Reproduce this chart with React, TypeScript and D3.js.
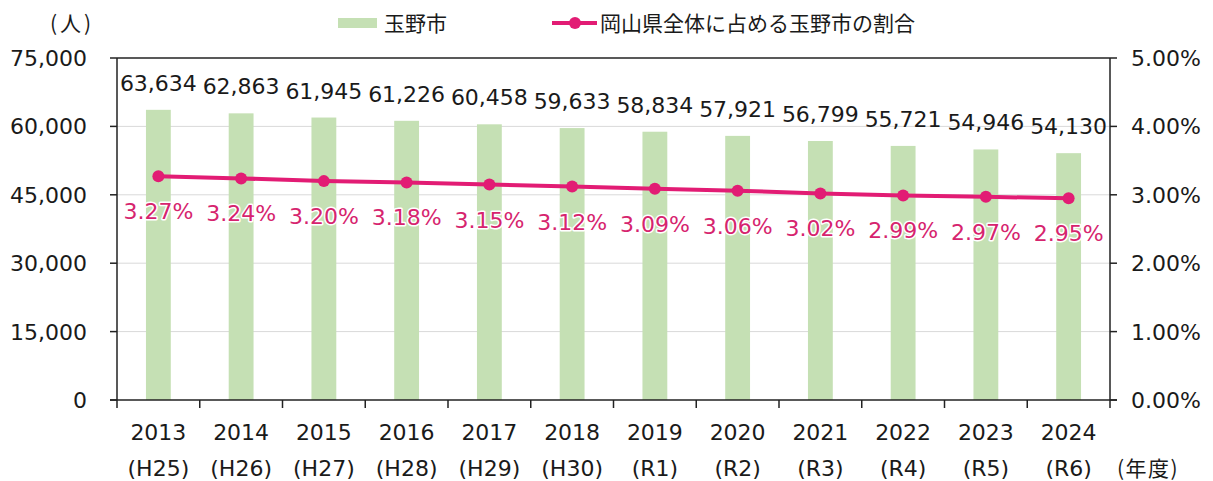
import React from "react";
import * as d3 from "d3";

const years = ["2013", "2014", "2015", "2016", "2017", "2018", "2019", "2020", "2021", "2022", "2023", "2024"];
const eras = ["(H25)", "(H26)", "(H27)", "(H28)", "(H29)", "(H30)", "(R1)", "(R2)", "(R3)", "(R4)", "(R5)", "(R6)"];
const population = [63634, 62863, 61945, 61226, 60458, 59633, 58834, 57921, 56799, 55721, 54946, 54130];
const ratio = [3.27, 3.24, 3.2, 3.18, 3.15, 3.12, 3.09, 3.06, 3.02, 2.99, 2.97, 2.95];
const leftTicks = [0, 15000, 30000, 45000, 60000, 75000];
const rightTicks = [0, 1, 2, 3, 4, 5];
const barName = "玉野市";
const lineName = "岡山県全体に占める玉野市の割合";
const leftUnit = "(人)";
const xUnit = "(年度)";

const W = 1213;
const H = 481;
const L = 117;
const R = 1110;
const T = 58;
const B = 400;
const FONT = "'DejaVu Sans', 'Noto Sans CJK JP', sans-serif";
const JFONT = "'Noto Sans CJK JP', 'DejaVu Sans', sans-serif";
const BAR = "#c5e0b4";
const PINK = "#e21c74";
const PINK_TXT = "#d6246e";
const FS = 22;

export default function App() {
  const x = d3.scaleBand<string>().domain(years).range([L, R]).padding(0);
  const yL = d3.scaleLinear().domain([0, 75000]).range([B, T]);
  const yR = d3.scaleLinear().domain([0, 5]).range([B, T]);
  const bw = x.bandwidth() * 0.3;
  const cx = (i: number) => (x(years[i]) as number) + x.bandwidth() / 2;
  const fmt = d3.format(",");
  const line = d3
    .line<number>()
    .x((_, i) => cx(i))
    .y((d) => yR(d));
  const boundaries = d3.range(years.length + 1).map((i) => L + i * x.bandwidth());

  return (
    <svg width={W} height={H} style={{ position: "absolute", left: 0, top: 0, background: "#fff" }}>
      {leftTicks.slice(1, -1).map((t) => (
        <line key={"g" + t} x1={L} x2={R} y1={yL(t)} y2={yL(t)} stroke="#d9d9d9" strokeWidth={1} />
      ))}
      {population.map((v, i) => (
        <rect key={"b" + i} x={cx(i) - bw / 2} y={yL(v)} width={bw} height={B - yL(v)} fill={BAR} />
      ))}
      {population.map((v, i) => (
        <text key={"bl" + i} x={cx(i)} y={yL(v) - 19} textAnchor="middle" fontFamily={FONT} fontSize={FS} fill="#1a1a1a">
          {fmt(v)}
        </text>
      ))}
      <line x1={L} x2={R} y1={T} y2={T} stroke="#222" strokeWidth={1.5} />
      <line x1={L - 7} x2={R + 7} y1={B} y2={B} stroke="#222" strokeWidth={1.5} />
      <line x1={L} x2={L} y1={T} y2={B} stroke="#222" strokeWidth={1.5} />
      <line x1={R} x2={R} y1={T} y2={B} stroke="#222" strokeWidth={1.5} />
      {leftTicks.map((t) => (
        <g key={"lt" + t}>
          <line x1={L - 7} x2={L} y1={yL(t)} y2={yL(t)} stroke="#222" strokeWidth={1.5} />
          <text x={87} y={yL(t)} dy="0.36em" textAnchor="end" fontFamily={FONT} fontSize={FS} fill="#1a1a1a">
            {fmt(t)}
          </text>
        </g>
      ))}
      {rightTicks.map((t) => (
        <g key={"rt" + t}>
          <line x1={R} x2={R + 7} y1={yR(t)} y2={yR(t)} stroke="#222" strokeWidth={1.5} />
          <text x={1131} y={yR(t)} dy="0.36em" textAnchor="start" fontFamily={FONT} fontSize={FS} fill="#1a1a1a">
            {t.toFixed(2) + "%"}
          </text>
        </g>
      ))}
      {boundaries.map((b, i) => (
        <line key={"xt" + i} x1={b} x2={b} y1={B} y2={B + 8} stroke="#222" strokeWidth={1.5} />
      ))}
      {years.map((yr, i) => (
        <g key={"xl" + i}>
          <text x={cx(i)} y={440} textAnchor="middle" fontFamily={FONT} fontSize={FS} fill="#1a1a1a">
            {yr}
          </text>
          <text x={cx(i)} y={476} textAnchor="middle" fontFamily={FONT} fontSize={FS} fill="#1a1a1a">
            {eras[i]}
          </text>
        </g>
      ))}
      <text x={1117} y={476} textAnchor="start" fontFamily={JFONT} fontSize={21} letterSpacing={1.5} fill="#1a1a1a">
        {xUnit}
      </text>
      <text x={50} y={23} dy="0.36em" textAnchor="start" fontFamily={JFONT} fontSize={21} letterSpacing={3} fill="#1a1a1a">
        {leftUnit}
      </text>
      <path d={line(ratio) || ""} fill="none" stroke={PINK} strokeWidth={4} />
      {ratio.map((v, i) => (
        <circle key={"c" + i} cx={cx(i)} cy={yR(v)} r={6} fill={PINK} />
      ))}
      {ratio.map((v, i) => (
        <text
          key={"rl" + i}
          x={cx(i)}
          y={yR(v) + 43}
          textAnchor="middle"
          fontFamily={FONT}
          fontSize={FS}
          fill={PINK_TXT}
          stroke="#fff"
          strokeWidth={3}
          strokeLinejoin="round"
          style={{ paintOrder: "stroke" }}
        >
          {v.toFixed(2) + "%"}
        </text>
      ))}
      <rect x={338} y={18} width={39} height={10} fill={BAR} />
      <text x={384} y={23} dy="0.36em" fontFamily={JFONT} fontSize={21} fill="#1a1a1a">
        {barName}
      </text>
      <line x1={552} x2={597} y1={23} y2={23} stroke={PINK} strokeWidth={4} />
      <circle cx={575} cy={23} r={6} fill={PINK} />
      <text x={600} y={23} dy="0.36em" fontFamily={JFONT} fontSize={21} fill="#1a1a1a">
        {lineName}
      </text>
    </svg>
  );
}
